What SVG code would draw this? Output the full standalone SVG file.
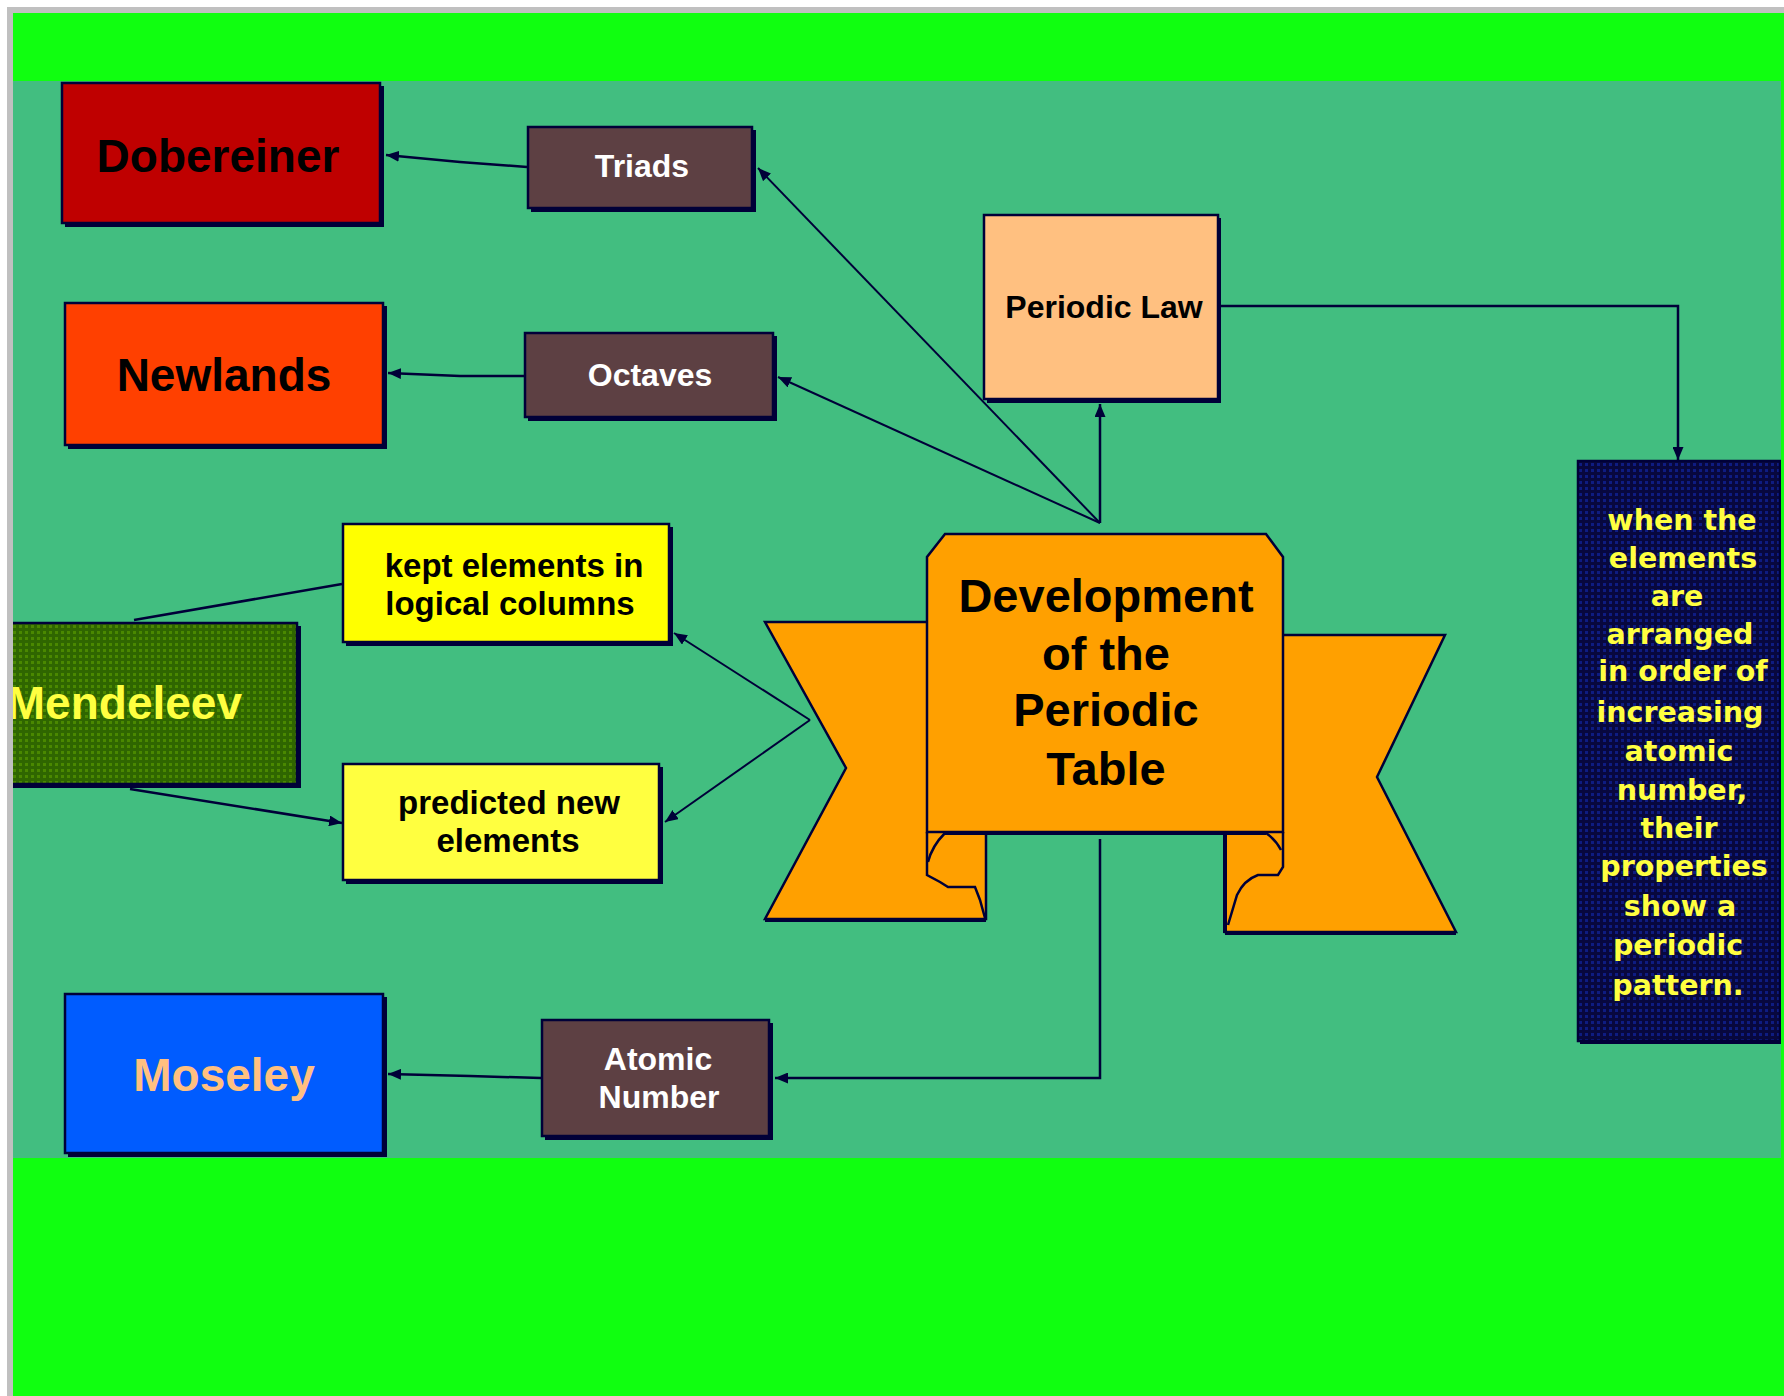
<svg xmlns="http://www.w3.org/2000/svg" width="1784" height="1396" viewBox="0 0 1784 1396">
<style>
.bx{stroke:#000038;stroke-width:2.5}
.sh{fill:#000038}
.t{font-family:"Liberation Sans",Arial,sans-serif;font-weight:bold;text-anchor:middle}
.big{font-size:46px}
.mid{font-size:32px}
.sm{font-size:33px}
.w{font-family:"DejaVu Sans","Liberation Sans",sans-serif;font-weight:bold;font-size:28.5px;text-anchor:middle;fill:#FFFF40}
.ln{fill:none;stroke:#000038;stroke-width:2.5}
.ld{fill:none;stroke:#000038;stroke-width:2}
.rib{fill:#FFA000;stroke:#000038;stroke-width:2.5;stroke-linejoin:miter}
</style>
<defs>
<marker id="ah" markerUnits="userSpaceOnUse" markerWidth="13" markerHeight="11" viewBox="0 0 13 11" refX="13" refY="5.5" orient="auto">
<path d="M0,0 L13,5.5 L0,11 Z" fill="#000038"/>
</marker>
<pattern id="pg" width="6" height="6" patternUnits="userSpaceOnUse">
<rect width="6" height="6" fill="#2F6600"/>
<rect x="1" y="1" width="3" height="3" fill="#4A8800"/>
</pattern>
<pattern id="pn" width="6" height="6" patternUnits="userSpaceOnUse">
<rect width="6" height="6" fill="#08083E"/>
<rect x="1" y="1" width="3" height="3" fill="#0E1C82"/>
</pattern>
<clipPath id="cp"><rect x="13" y="81" width="1768" height="1077"/></clipPath>
</defs>
<rect width="1784" height="1396" fill="#FFFFFF"/>
<rect x="7" y="7" width="1777" height="1389" fill="#C0C0C0"/>
<rect x="13" y="13" width="1771" height="1383" fill="#10FF10"/>
<rect x="13" y="81" width="1768" height="1077" fill="#42BE80"/>
<g clip-path="url(#cp)">
<g id="connectors">
<polyline class="ln" points="527,167 460,162 386,155" marker-end="url(#ah)"/>
<polyline class="ln" points="524,376 460,376 388,373" marker-end="url(#ah)"/>
<line class="ld" x1="1100" y1="523" x2="758" y2="168" marker-end="url(#ah)"/>
<line class="ld" x1="1100" y1="523" x2="778" y2="377" marker-end="url(#ah)"/>
<line class="ln" x1="1100" y1="523" x2="1100" y2="404" marker-end="url(#ah)"/>
<polyline class="ln" points="1221,306 1678,306 1678,460" marker-end="url(#ah)"/>
<line class="ln" x1="134" y1="620" x2="342" y2="584"/>
<line class="ln" x1="130" y1="789" x2="342" y2="823" marker-end="url(#ah)"/>
<line class="ld" x1="810" y1="720" x2="674" y2="633" marker-end="url(#ah)"/>
<line class="ld" x1="810" y1="720" x2="665" y2="822" marker-end="url(#ah)"/>
<polyline class="ln" points="1100,839 1100,1078 775,1078" marker-end="url(#ah)"/>
<polyline class="ln" points="541,1078 470,1076 388,1074" marker-end="url(#ah)"/>
</g>
<g id="dobereiner">
<rect class="sh" x="65" y="86" width="319" height="141"/>
<rect class="bx" x="62" y="83" width="318" height="140" fill="#BF0000"/>
<text class="t big" x="218" y="172" fill="#000000">Dobereiner</text>
</g>
<g id="triads">
<rect class="sh" x="531" y="130" width="225" height="82"/>
<rect class="bx" x="528" y="127" width="224" height="81" fill="#5D4043"/>
<text class="t mid" x="642" y="177" fill="#FFFFFF">Triads</text>
</g>
<g id="newlands">
<rect class="sh" x="68" y="306" width="319" height="143"/>
<rect class="bx" x="65" y="303" width="318" height="142" fill="#FF4000"/>
<text class="t big" x="224" y="391" fill="#000000">Newlands</text>
</g>
<g id="octaves">
<rect class="sh" x="528" y="336" width="249" height="85"/>
<rect class="bx" x="525" y="333" width="248" height="84" fill="#5D4043"/>
<text class="t mid" x="650" y="386" fill="#FFFFFF">Octaves</text>
</g>
<g id="periodic-law">
<rect class="sh" x="987" y="218" width="234" height="185"/>
<rect class="bx" x="984" y="215" width="234" height="184" fill="#FFC080"/>
<text class="t mid" x="1104" y="318" fill="#000000">Periodic Law</text>
</g>
<g id="kept">
<rect class="sh" x="346" y="527" width="327" height="119"/>
<rect class="bx" x="343" y="524" width="326" height="118" fill="#FFFF00"/>
<text class="t sm" x="514" y="577" fill="#000000">kept elements in</text>
<text class="t sm" x="510" y="615" fill="#000000">logical columns</text>
</g>
<g id="predicted">
<rect class="sh" x="346" y="767" width="317" height="117"/>
<rect class="bx" x="343" y="764" width="316" height="116" fill="#FFFF40"/>
<text class="t sm" x="509" y="814" fill="#000000">predicted new</text>
<text class="t sm" x="508" y="852" fill="#000000">elements</text>
</g>
<g id="mendeleev">
<rect class="sh" x="-16" y="626" width="317" height="162"/>
<rect class="bx" x="-19" y="623" width="316" height="161" fill="url(#pg)"/>
<text class="t big" x="242" y="719" fill="#FFFF40" style="text-anchor:end">Mendeleev</text>
</g>
<g id="moseley">
<rect class="sh" x="68" y="997" width="319" height="160"/>
<rect class="bx" x="65" y="994" width="318" height="159" fill="#005CFF"/>
<text class="t big" x="224" y="1091" fill="#FFC080">Moseley</text>
</g>
<g id="atomic-number">
<rect class="sh" x="545" y="1023" width="228" height="117"/>
<rect class="bx" x="542" y="1020" width="227" height="116" fill="#5D4043"/>
<text class="t mid" x="658" y="1070" fill="#FFFFFF">Atomic</text>
<text class="t mid" x="659" y="1108" fill="#FFFFFF">Number</text>
</g>
<g id="development">
<polygon class="rib" points="765,622 986,622 986,919 765,919 846,768"/>
<line x1="765" y1="920" x2="986" y2="920" stroke="#000038" stroke-width="4"/>
<polygon class="rib" points="1225,635 1445,635 1377,777 1456,932 1225,932"/>
<line x1="1225" y1="933" x2="1456" y2="933" stroke="#000038" stroke-width="4"/>
<path class="rib" d="M945,534 L1266,534 L1283,557 L1283,832 L927,832 L927,557 Z"/>
<line x1="945" y1="833" x2="1266" y2="833" stroke="#000038" stroke-width="4"/>
<path class="ln" d="M927,832 L927,875 L940,882 L948,887 L975,887 L980,900 L985,918"/>
<path class="ln" d="M945,833 Q932,846 928,862"/>
<path class="ln" d="M1283,832 L1283,867 L1278,875 L1258,875 Q1244,880 1237,895 L1228,925"/>
<path class="ln" d="M1266,833 Q1276,840 1281,850"/>
<line x1="1225" y1="833" x2="1225" y2="933" stroke="#000038" stroke-width="4"/>
<text class="t" x="1106" y="612" font-size="47" fill="#000000">Development</text>
<text class="t" x="1106" y="670" font-size="47" fill="#000000">of the</text>
<text class="t" x="1106" y="726" font-size="47" fill="#000000">Periodic</text>
<text class="t" x="1106" y="785" font-size="47" fill="#000000">Table</text>
</g>
<g id="when">
<rect class="sh" x="1580" y="463" width="202" height="581"/>
<rect class="bx" x="1578" y="461" width="202" height="580" fill="url(#pn)"/>
<text class="w" x="1682" y="530">when the</text>
<text class="w" x="1683" y="568">elements</text>
<text class="w" x="1677" y="606">are</text>
<text class="w" x="1680" y="644">arranged</text>
<text class="w" x="1683" y="681">in order of</text>
<text class="w" x="1680" y="722">increasing</text>
<text class="w" x="1679" y="761">atomic</text>
<text class="w" x="1682" y="800">number,</text>
<text class="w" x="1679" y="838">their</text>
<text class="w" x="1684" y="876">properties</text>
<text class="w" x="1680" y="916">show a</text>
<text class="w" x="1678" y="955">periodic</text>
<text class="w" x="1678" y="995">pattern.</text>
</g>
</g>
</svg>
